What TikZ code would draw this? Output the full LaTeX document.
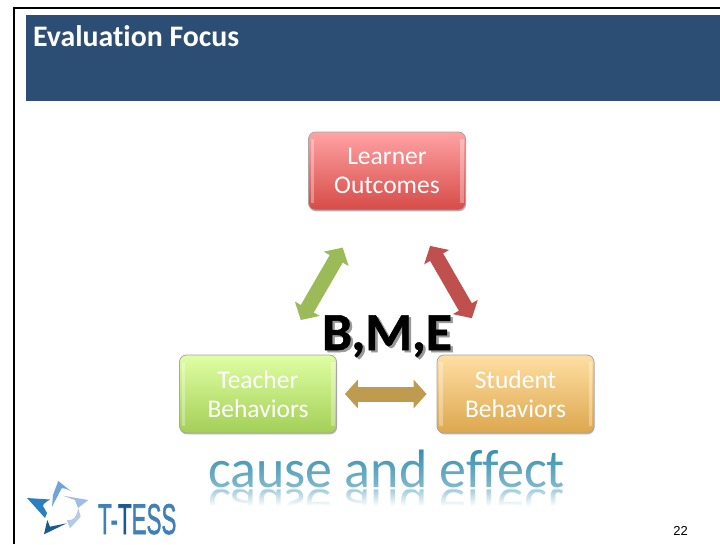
\documentclass[tikz,border=0pt]{standalone}
\usepackage{fontspec}
\setmainfont[Ligatures=NoCommon]{Carlito}
\newfontfamily\logofont{Liberation Sans}
\newfontfamily\logoheavy[FakeBold=1.5]{Liberation Sans}
\newfontfamily\heavyfont[FakeBold=1,Ligatures=NoCommon]{Carlito Bold}
\usetikzlibrary{arrows.meta,shadows,fadings}
\definecolor{headerblue}{HTML}{2C4E74}
\definecolor{arrowgreen}{HTML}{9BBB59}
\definecolor{arrowred}{HTML}{C0504D}
\definecolor{arrowtan}{HTML}{BF9B50}
\definecolor{effectblue}{HTML}{3690B0}
\definecolor{logoA}{HTML}{2A7FC0}
\definecolor{logoB}{HTML}{6FA5D8}
\definecolor{logoC}{HTML}{9DBDE2}
\definecolor{logoD}{HTML}{B5C9E8}
\definecolor{logoE}{HTML}{1A5A8E}
\definecolor{logoT}{HTML}{3F80BA}
\definecolor{redtop}{HTML}{FFA3A4}
\definecolor{redmid}{HTML}{F58688}
\definecolor{redbot}{HTML}{D64B47}
\definecolor{greentop}{HTML}{DFFFA3}
\definecolor{greenmid}{HTML}{C8F082}
\definecolor{greenbot}{HTML}{A3CF57}
\definecolor{orangetop}{HTML}{FFDFA3}
\definecolor{orangemid}{HTML}{F6CF84}
\definecolor{orangebot}{HTML}{DDA74E}
\tikzset{
  gelbox/.style n args={3}{
    draw=black!35, line width=0.8pt, rounded corners=7pt,
    minimum width=157pt, minimum height=78pt, inner sep=0pt,
    align=center, text=white, font=\fontsize{25.5}{28.5}\selectfont,
    top color=#1, middle color=#2, bottom color=#3,
    drop shadow={shadow xshift=0.6pt, shadow yshift=-1.4pt, fill=black!45, opacity=0.6},
    path picture={
      \fill[white,opacity=0.32,sharp corners] ([shift={(2pt,-7pt)}]path picture bounding box.north west)
        rectangle ([shift={(5.5pt,7pt)}]path picture bounding box.south west);
      \fill[white,opacity=0.32,sharp corners] ([shift={(-5.5pt,-7pt)}]path picture bounding box.north east)
        rectangle ([shift={(-2pt,7pt)}]path picture bounding box.south east);
    }},
  blockarrow/.style={line width=15pt,
    {Triangle[length=13pt,width=28pt]}-{Triangle[length=13pt,width=28pt]}},
  logoarm/.style={draw=none},
  effecttext/.style={anchor=base,inner sep=0pt,font=\fontsize{54}{60}\selectfont},
  bmetext/.style={anchor=base,inner sep=0pt,font=\heavyfont\fontsize{53.5}{60}\selectfont}
}
\begin{document}
\begin{tikzpicture}[x=1pt,y=-1pt]
\useasboundingbox (0,0) rectangle (720,544);
\fill[white] (0,0) rectangle (720,544);
% frame
\draw[line width=2pt,black] (13.5,544) -- (13.5,8) -- (720,8);
% header
\fill[headerblue] (26,15) rectangle (720,101);
\node[anchor=base west,inner sep=0pt,text=white,font=\bfseries\fontsize{29.8}{32}\selectfont] (title) at (33,46) {Evaluation Focus};
% boxes
\node[gelbox={redtop}{redmid}{redbot}] (learner) at (387,171) {Learner\\Outcomes};
\node[gelbox={greentop}{greenmid}{greenbot}] (teacher) at (258,394) {Teacher\\Behaviors};
\node[gelbox={orangetop}{orangemid}{orangebot}] (student) at (515.5,394) {Student\\Behaviors};
% arrows
\draw[blockarrow,arrowgreen,shorten <=40pt,shorten >=43pt] (teacher) -- (learner);
\draw[blockarrow,arrowred,shorten <=42pt,shorten >=41pt] (student) -- (learner);
\draw[blockarrow,arrowtan,shorten <=8pt,shorten >=10pt] (teacher) -- (student);
% B,M,E with shadow
\node[bmetext,text=black!40] (bmeshadow) at (389.5,352) {B,M,E};
\node[bmetext,text=black] (bme) at (387,350) {B,M,E};
% cause and effect with reflection
\node[effecttext,text=effectblue!55,yscale=-1,transform shape] (reflection) at (386.5,489) {cause and effect};
\fill[white,path fading=north] (200,486) rectangle (570,506);
\fill[white] (200,505.5) rectangle (570,532);
\node[effecttext,text=effectblue] (effect) at (386.5,487) {cause and effect};
\fill[white,opacity=0.4,path fading=north] (200,450) rectangle (570,490);
% logo
\fill[logoA,logoarm] (27,498) -- (50,499.5) .. controls (46,502) and (43,504) .. (43,506) -- (47,513) -- (45,518) -- cycle;
\fill[logoB,logoarm] (58.3,481) -- (71.7,491.7) .. controls (68,489) and (64,488) .. (61.7,488.3) -- (52,506.7) -- (53,495) -- cycle;
\fill[logoC,logoarm] (88.3,500) -- (63,495.7) -- (75,500) -- (78,508) -- cycle;
\fill[logoD,logoarm] (70,528.3) -- (66.7,520) .. controls (72,521) and (76,519) .. (78.3,508.3) -- (80.7,516.7) -- cycle;
\fill[logoE,logoarm] (44,534.3) -- (47.3,520) -- (50,526.7) -- (66.7,523.3) -- cycle;
\node[anchor=base west,inner sep=0pt,xscale=0.52,transform shape,font=\logoheavy\fontsize{43}{46}\selectfont] (logotext) at (98,534)
  {\textcolor{logoT}{T-}\textcolor{logoE}{T}\textcolor{logoT}{ESS}};
% page number
\node[anchor=base east,inner sep=0pt,font=\logofont\fontsize{13}{15}\selectfont] (page) at (688,535) {22};
\end{tikzpicture}
\end{document}
